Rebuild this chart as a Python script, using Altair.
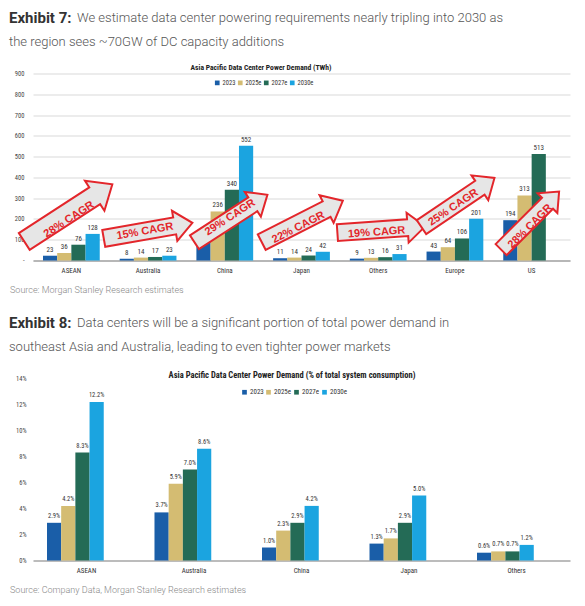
import altair as alt
import pandas as pd

# ---------------- data ----------------
SERIES = ["2023", "2025e", "2027e", "2030e"]
COLORS = ["#1a5ea8", "#d4bc72", "#246b56", "#1ba4e0"]

REGIONS_TWH = ["ASEAN", "Australia", "China", "Japan", "Others", "Europe", "US"]
TWH_2023 = [23, 8, 95, 11, 9, 43, 194]
TWH_2025 = [36, 14, 236, 14, 13, 64, 313]
TWH_2027 = [76, 17, 340, 24, 16, 106, 513]
TWH_2030 = [128, 23, 552, 42, 31, 201, None]
TWH_TICKS = [0, 100, 200, 300, 400, 500, 600, 700, 800, 900]

REGIONS_PCT = ["ASEAN", "Australia", "China", "Japan", "Others"]
PCT_2023 = [2.9, 3.7, 1.0, 1.3, 0.6]
PCT_2025 = [4.2, 5.9, 2.3, 1.7, 0.7]
PCT_2027 = [8.3, 7.0, 2.9, 2.9, 0.7]
PCT_2030 = [12.2, 8.6, 4.2, 5.0, 1.2]
PCT_TICKS = [0, 2, 4, 6, 8, 10, 12, 14]

CAGR_LABELS = ["28% CAGR", "15% CAGR", "29% CAGR", "22% CAGR", "19% CAGR", "25% CAGR", "28% CAGR"]

HEAD7 = ["Exhibit 7:",
         "We estimate data center powering requirements nearly tripling into 2030 as",
         "the region sees ~70GW of DC capacity additions"]
HEAD8 = ["Exhibit 8:",
         "Data centers will be a significant portion of total power demand in",
         "southeast Asia and Australia, leading to even tighter power markets"]
TITLE7 = "Asia Pacific Data Center Power Demand (TWh)"
TITLE8 = "Asia Pacific Data Center Power Demand  (% of total system consumption)"
SOURCE7 = "Source: Morgan Stanley Research estimates"
SOURCE8 = "Source: Company Data, Morgan Stanley Research estimates"

# annotation placement (x in category-index units, y in TWh, rotation, arrow length px)
ARROW_X = [0.46, 1.50, 2.58, 3.51, 4.54, 5.54, 6.48]
ARROW_Y = [229, 144, 202, 188, 149, 279, 192]
ARROW_ROT = [33, 10, 33, 27, 4, 34, 45]
ARROW_LEN = [105, 90, 87, 91, 88, 88, 82]
TEXT_X = [0.47, 1.46, 2.57, 3.46, 4.48, 5.48, 6.48]
TEXT_Y = [197, 140, 207, 159, 135, 255, 164]

NARROW = "Liberation Sans Narrow, Arial Narrow, Roboto Condensed, Roboto, sans-serif"
BODY = "Roboto, Liberation Sans, sans-serif"

def long_df(regions, cols):
    rows = []
    for i, r in enumerate(regions):
        for s, col in zip(SERIES, cols):
            v = col[i]
            if v is not None:
                rows.append({"region": r, "series": s, "value": v})
    return pd.DataFrame(rows)

df1 = long_df(REGIONS_TWH, [TWH_2023, TWH_2025, TWH_2027, TWH_2030])
df2 = long_df(REGIONS_PCT, [PCT_2023, PCT_2025, PCT_2027, PCT_2030])

ann = pd.DataFrame({
    "label": CAGR_LABELS,
    "ax": ARROW_X, "ay": ARROW_Y,
    "rot": [360 - a for a in ARROW_ROT],
    "sz": [l * l for l in ARROW_LEN],
    "tx": TEXT_X, "ty": TEXT_Y,
})

ARROW = "M -1 -0.19 L 0.6 -0.19 L 0.6 -0.34 L 1 0 L 0.6 0.34 L 0.6 0.19 L -1 0.19 Z"

color_scale = alt.Scale(domain=SERIES, range=COLORS)


def txt(value, x, y, size, weight="normal", color="#333", font=BODY, align="left"):
    return alt.Chart(pd.DataFrame({"t": [value]})).mark_text(
        align=align, baseline="middle", font=font, fontSize=size,
        fontWeight=weight, color=color
    ).encode(x=alt.value(x), y=alt.value(y), text="t:N")


def headers(head, title, tx, ty, tsize, source, sy):
    return [
        txt(head[0], -24, -56, 15, "bold", "#333"),
        txt(head[1], 44, -56, 13, 300, "#555"),
        txt(head[2], -24, -32, 13, 300, "#555"),
        txt(title, tx, ty, tsize, "bold", "#222", NARROW, "center"),
        txt(source, -23, sy, 9, 300, "#888"),
    ]


def legend(x, y, pad, fs):
    return alt.Legend(title=None, orient="none", legendX=x, legendY=y,
                      direction="horizontal", symbolType="square",
                      symbolSize=22, symbolStrokeWidth=0,
                      labelFontSize=fs, labelFont=NARROW,
                      labelColor="#333", columnPadding=pad,
                      labelOffset=2, padding=0)


# ---------------- panel 1 ----------------
W = 537
H1 = 187
xaxis = dict(title=None, labelAngle=0, ticks=False, domainColor="#a6a6a6",
             domainWidth=1.5, labelFontSize=7, labelPadding=6,
             labelColor="#333", labelFont=NARROW)
x1 = alt.X("region:N", sort=REGIONS_TWH,
           scale=alt.Scale(paddingInner=0.26, paddingOuter=0.13),
           axis=alt.Axis(**xaxis))
x1n = alt.X("region:N", sort=REGIONS_TWH,
            scale=alt.Scale(paddingInner=0.26, paddingOuter=0.13), axis=None)
xo = alt.XOffset("series:N", sort=SERIES, scale=alt.Scale(paddingInner=0, paddingOuter=0))
yaxis1 = alt.Axis(values=TWH_TICKS, title=None, grid=True, gridColor="#d9d9d9",
                  domain=False, ticks=False, labelFontSize=6.5, labelPadding=9,
                  labelColor="#444", labelFont=NARROW, labelOverlap=False,
                  labelExpr="datum.value == 0 ? '-' : datum.label")
yscale1 = alt.Scale(domain=[0, 900])
y1 = alt.Y("value:Q", scale=yscale1, axis=yaxis1)

bars1 = alt.Chart(df1).mark_bar().encode(
    x=x1, xOffset=xo, y=y1,
    color=alt.Color("series:N", sort=SERIES, scale=color_scale,
                    legend=legend(181, 6, 1, 6.5)))
lab1 = alt.Chart(df1).mark_text(baseline="bottom", dy=-3, fontSize=7, font=NARROW,
                                color="#333").encode(
    x=x1n, xOffset=xo, y=y1, text=alt.Text("value:Q", format="d"))

arrows = alt.Chart(ann).mark_point(
    shape=ARROW, fill="#e6e6e6", stroke="#e3262b", strokeWidth=2,
    opacity=1, fillOpacity=1, strokeOpacity=1
).encode(
    x=alt.X("ax:Q", scale=alt.Scale(domain=[0, 7]), axis=None),
    y=alt.Y("ay:Q", scale=yscale1, axis=yaxis1),
    angle=alt.Angle("rot:Q", scale=None),
    size=alt.Size("sz:Q", scale=None),
)
arrow_text = alt.Chart(ann).mark_text(
    font="Liberation Sans, Arial, sans-serif", fontSize=11, fontWeight="bold",
    color="#e3262b", baseline="middle", align="center"
).encode(
    x=alt.X("tx:Q", scale=alt.Scale(domain=[0, 7]), axis=None),
    y=alt.Y("ty:Q", scale=yscale1, axis=yaxis1),
    angle=alt.Angle("rot:Q", scale=None),
    text="label:N",
)

panel1 = alt.layer(
    bars1, lab1, arrows, arrow_text,
    *headers(HEAD7, TITLE7, 228, -6, 7.6, SOURCE7, 216)
).resolve_scale(x="independent").properties(width=W, height=H1)

# ---------------- panel 2 ----------------
H2 = 182
x2 = alt.X("region:N", sort=REGIONS_PCT,
           scale=alt.Scale(paddingInner=0.265, paddingOuter=0.13),
           axis=alt.Axis(**xaxis))
y2 = alt.Y("value:Q", scale=alt.Scale(domain=[0, 14]),
           axis=alt.Axis(values=PCT_TICKS, title=None, grid=False,
                         domain=False, ticks=False, labelFontSize=6.5, labelPadding=7,
                         labelColor="#444", labelFont=NARROW, labelOverlap=False,
                         labelExpr="datum.value + '%'"))
bars2 = alt.Chart(df2).mark_bar().encode(
    x=x2, xOffset=xo, y=y2,
    color=alt.Color("series:N", sort=SERIES, scale=color_scale,
                    legend=legend(208, 10, 1, 7)))
lab2 = alt.Chart(df2).transform_calculate(
    lbl="format(datum.value, '.1f') + '%'"
).mark_text(baseline="bottom", dy=-4, fontSize=6.5, font=NARROW, color="#333").encode(
    x=x2, xOffset=xo, y=y2, text="lbl:N")

panel2 = alt.layer(
    bars2, lab2,
    *headers(HEAD8, TITLE8, 259, -4, 8.5, SOURCE8, 211)
).properties(width=W, height=H2)

chart = alt.vconcat(panel1, panel2, spacing=21).resolve_scale(
    color="independent"
).resolve_legend(color="independent").configure(
    padding={"left": 1, "top": 2.5, "right": 5, "bottom": 5},
    font=BODY,
).configure_view(stroke=None)

chart.save("out.html", embed_options={"renderer": "svg", "actions": False})
